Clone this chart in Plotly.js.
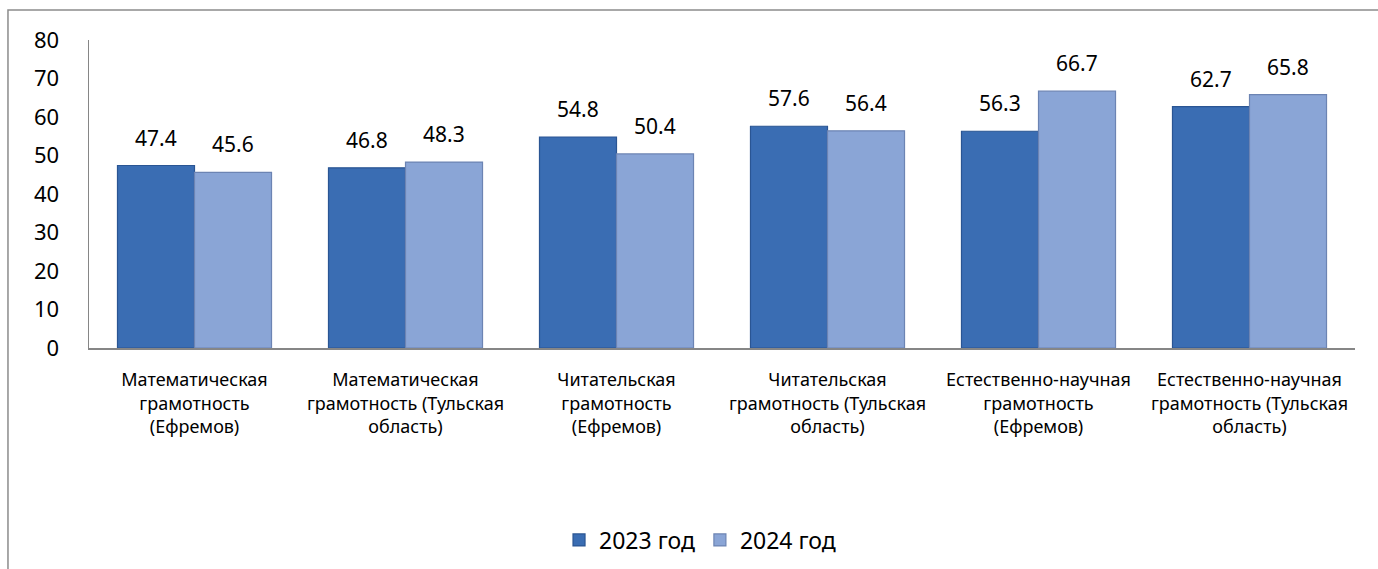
<!DOCTYPE html>
<html><head><meta charset="utf-8">
<script src="https://cdn.plot.ly/plotly-3.0.1.min.js"></script>
<style>html,body{margin:0;padding:0;background:#fff}#c{width:1378px;height:569px}</style>
</head><body><div id="c"></div>
<script>
const categories = [
  "Математическая<br>грамотность<br>(Ефремов)",
  "Математическая<br>грамотность (Тульская<br>область)",
  "Читательская<br>грамотность<br>(Ефремов)",
  "Читательская<br>грамотность (Тульская<br>область)",
  "Естественно-научная<br>грамотность<br>(Ефремов)",
  "Естественно-научная<br>грамотность (Тульская<br>область)"
];
const series2023 = [47.4, 46.8, 54.8, 57.6, 56.3, 62.7];
const series2024 = [45.6, 48.3, 50.4, 56.4, 66.7, 65.8];
const seriesNames = ["2023 год", "2024 год"];
const yTicks = [0, 10, 20, 30, 40, 50, 60, 70, 80];

const font = "'Noto Sans', 'Open Sans', sans-serif";
const bargap = 0.27;
const half = (1 - bargap) / 4;

const traces = [
  {type: "bar", name: seriesNames[0], x: categories.map((c,i)=>i), y: series2023,
   marker: {color: "#3a6db3", line: {color: "#2a5593", width: 1.2}}, hoverinfo: "none"},
  {type: "bar", name: seriesNames[1], x: categories.map((c,i)=>i), y: series2024,
   marker: {color: "#8aa5d6", line: {color: "#6c84b3", width: 1.2}}, hoverinfo: "none"}
];

const annotations = [];
series2023.forEach((v,i)=>annotations.push({x: i - half, y: v, text: v.toFixed(1), showarrow: false,
  yanchor: "bottom", yshift: 12, font: {family: font, size: 21, color: "#000"}}));
series2024.forEach((v,i)=>annotations.push({x: i + half, y: v, text: v.toFixed(1), showarrow: false,
  yanchor: "bottom", yshift: 12, font: {family: font, size: 21, color: "#000"}}));

const layout = {
  width: 1378, height: 569,
  margin: {l: 89, r: 23, t: 40, b: 221},
  paper_bgcolor: "#fff", plot_bgcolor: "#fff",
  barmode: "group", bargap: bargap, bargroupgap: 0,
  font: {family: font, color: "#000"},
  xaxis: {tickmode: "array", tickvals: categories.map((c,i)=>i), ticktext: categories,
    range: [-0.5, categories.length - 0.5], showline: true, linecolor: "#868686", linewidth: 1.5,
    ticks: "", showgrid: false, zeroline: false, tickangle: 0, ticklabelstandoff: 15, automargin: false,
    tickfont: {family: font, size: 18, color: "#000"}},
  yaxis: {range: [0, 80], tickvals: yTicks, showline: true, linecolor: "#868686", linewidth: 1.5,
    ticks: "", showgrid: false, zeroline: false, ticklabelstandoff: 24, automargin: false,
    tickfont: {family: font, size: 22, color: "#000"}},
  showlegend: true,
  legend: {orientation: "h", xref: "container", yref: "container", x: 0.508, xanchor: "center",
    y: 0.051, yanchor: "middle",
    font: {family: font, size: 23, color: "#000"}, itemwidth: 30, tracegroupgap: 0},
  annotations: annotations,
  shapes: [{type: "rect", xref: "paper", yref: "paper", x0: -0.064, x1: 1.03, y0: -0.75, y1: 1.097,
    line: {color: "#8c8c8c", width: 1.5}, fillcolor: "rgba(0,0,0,0)", layer: "below"}]
};

Plotly.newPlot("c", traces, layout, {displayModeBar: false, staticPlot: true});
</script></body></html>
